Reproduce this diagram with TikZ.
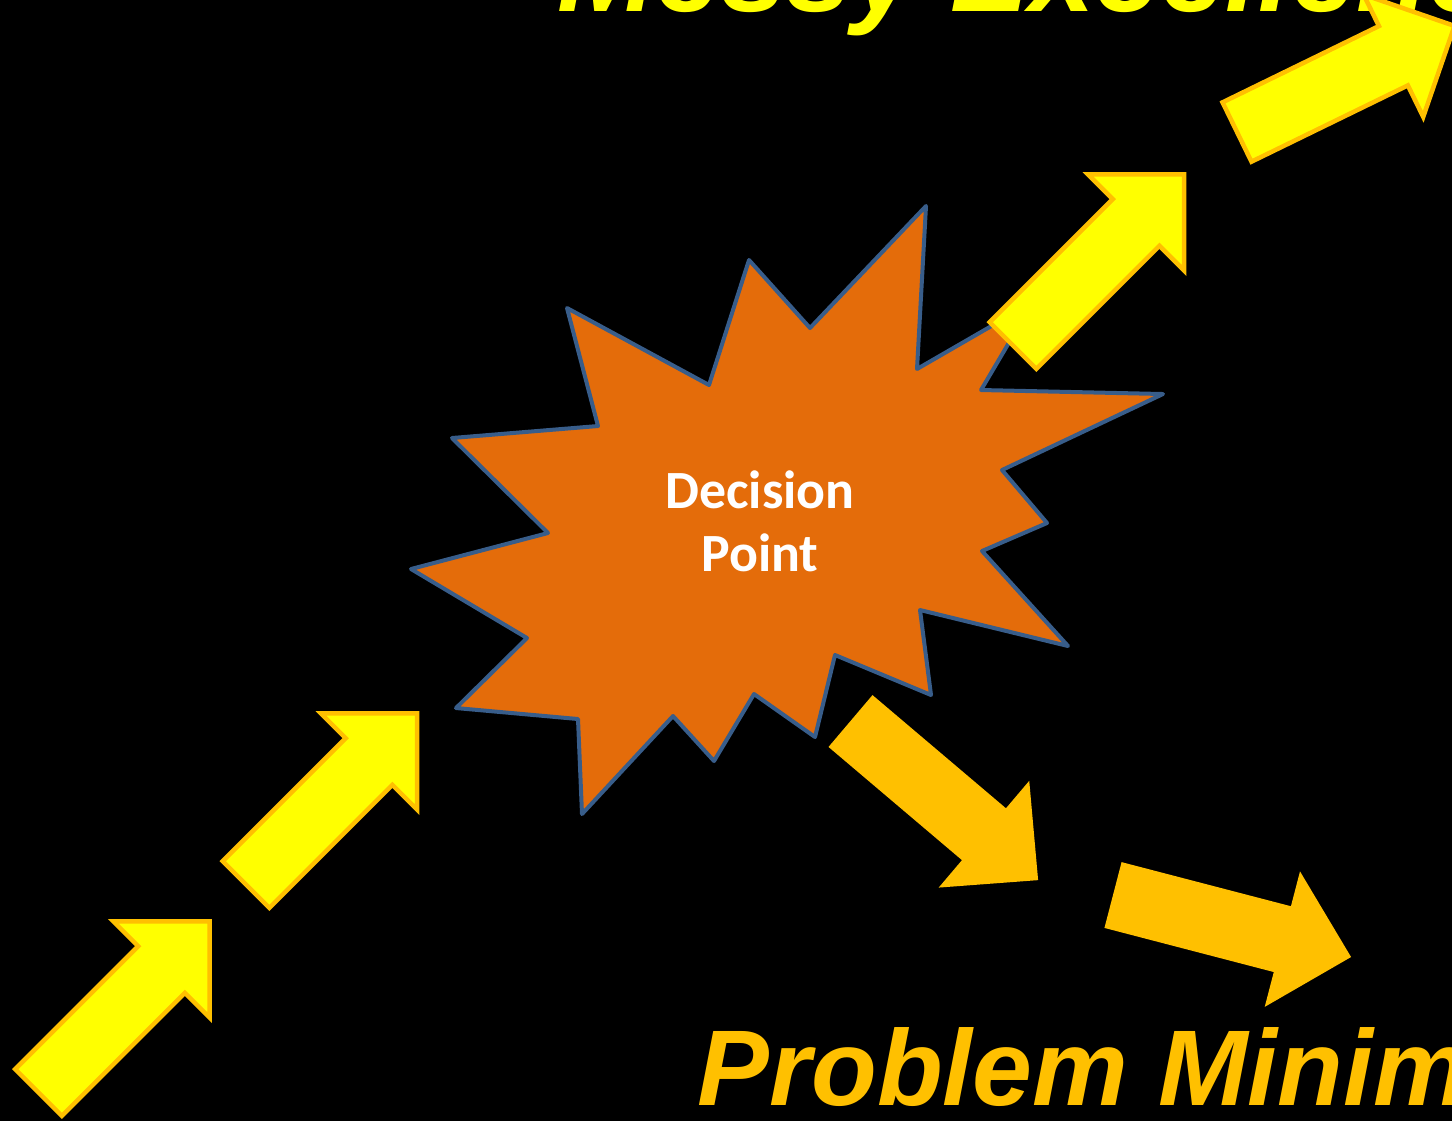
\documentclass[tikz,border=0pt]{standalone}
\usepackage{fontspec}
\setmainfont{Liberation Sans}
\newfontfamily\labelfont{Carlito}
\definecolor{slideyellow}{HTML}{FFFF00}
\definecolor{slidegold}{HTML}{FFC000}
\definecolor{burstorange}{HTML}{E46C0A}
\definecolor{burstblue}{HTML}{385D8A}
\tikzset{
  yellowarrow/.style={fill=slideyellow, draw=slidegold, line width=0.045cm},
  goldarrow/.style={fill=slidegold},
  headline/.style={anchor=base west, inner sep=0pt, font=\fontsize{33.5}{36}\selectfont\bfseries\itshape},
}
\begin{document}
\begin{tikzpicture}[x=0.01cm, y=-0.01cm]
  % Slide
  \useasboundingbox (0,0) rectangle (1452,1120);
  \fill[black] (-20,-20) rectangle (1472,1140);
  \clip (0,0) rectangle (1452,1120);
  % Outcome titles (run off the slide)
  \node[headline, text=slideyellow] (upper) at (557,11) {Messy Excellence};
  \node[headline, text=slidegold, font=\fontsize{30.6}{33}\selectfont\bfseries\itshape] (lower) at (697,1105) {Problem Minimization};
  % Burst
  \filldraw[fill=burstorange, draw=burstblue, line width=0.04cm, line join=round]
    (749,260) -- (810,328) -- (926,206) -- (917,369) -- (1033,302) -- (981,390) --
    (1163,394) -- (1002,470) -- (1047,523) -- (982,551) -- (1068,646) -- (920,610) --
    (931,695) -- (835,655) -- (815,737) -- (754,694) -- (714,761) -- (673,716) --
    (582,814) -- (578,719) -- (456,708) -- (527,638) -- (411,569) -- (548,533) --
    (452,438) -- (598,426) -- (567,308) -- (709,385) -- cycle;
  \node[text=white, align=center, font=\labelfont\bfseries\fontsize{15.3}{17.9}\selectfont] (decision) at (760,521) {Decision\\Point};
  % Rising arrows
  \foreach \px/\py/\ang in {38.5/1092.5/45, 246/884.5/45, 1013/345.5/45, 1237/132/26} {
    \filldraw[yellowarrow, shift={(\px,\py)}, rotate=\ang]
      (0,-33) -- (174,-33) -- (174,-68) -- (242,0) -- (174,68) -- (174,33) -- (0,33) -- cycle;
  }
  % Falling arrows
  \foreach \px/\py/\ang in {850.5/721/-40.3, 1113/895/-14.6} {
    \fill[goldarrow, shift={(\px,\py)}, rotate=\ang]
      (0,-34) -- (175,-34) -- (175,-70) -- (246,0) -- (175,70) -- (175,34) -- (0,34) -- cycle;
  }
\end{tikzpicture}
\end{document}
